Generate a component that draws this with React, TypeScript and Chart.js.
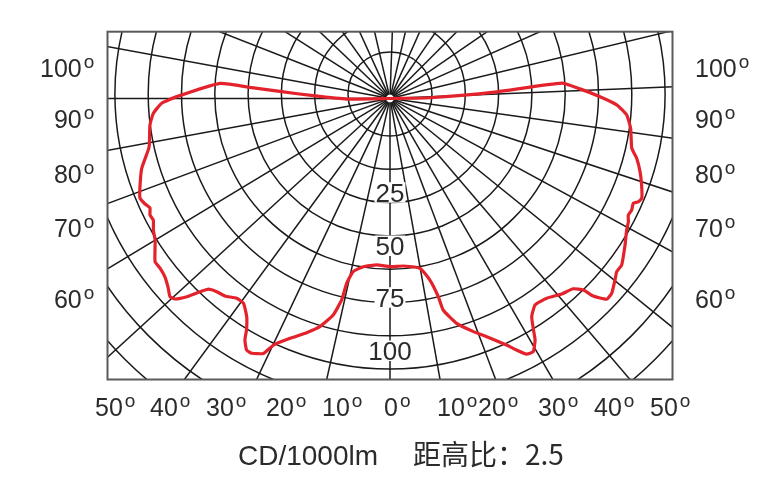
import React, { useEffect, useRef } from "react";
import { Chart, registerables } from "chart.js";

Chart.register(...registerables);

// Luminous intensity curve: angle from nadir (deg, negative = left), intensity (plot units)
const curveAngles = [
  -90, -89.3, -92.1, -93.6, -94.5, -95.1, -90.5, -88.8, -86.4, -83.7, -79.1, -78.0,
  -74.3, -70.9, -68.3, -66.7, -65.5, -64.1, -62.8, -60.9, -58.9, -55.2, -53.6, -51.6,
  -49.5, -48.0, -47.0, -45.7, -44.5, -43.6, -41.9, -39.9, -37.5, -35.6, -33.3, -31.8,
  -31.0, -29.7, -28.5, -26.4, -25.3, -22.6, -19.6, -17.1, -14.7, -13.5, -13.2, -12.0,
  -9.0, -4.6, 0, 4.5, 10.0, 12.4, 13.7, 14.1, 16.5, 19.7, 22.1, 25.3, 26.7, 28.1,
  29.5, 31.0, 31.8, 33.0, 35.1, 38.1, 41.3, 43.9, 45.3, 45.8, 47.2, 48.7, 51.1, 52.6,
  54.3, 58.1, 60.9, 62.7, 63.9, 65.2, 66.7, 67.4, 68.4, 71.0, 73.7, 76.4, 78.4, 82.9,
  86.0, 88.4, 90.5, 92.9, 95.1, 93.6, 91.1, 90,
];
const curveIntensity = [
  0, 43.3, 76.8, 108.5, 138.7, 170.7, 213.3, 228.4, 237.2, 241.5, 245.1, 247.1,
  257.9, 264.5, 269.1, 266.7, 263.8, 266.8, 266.1, 270.8, 274.3, 286.1, 285.7, 287.2,
  291.7, 296.1, 294.0, 283.9, 271.0, 263.3, 259.5, 257.4, 251.8, 251.7, 261.0, 272.3,
  281.7, 289.5, 289.9, 284.6, 272.7, 259.8, 248.6, 238.7, 223.8, 207.2, 189.8, 177.0,
  170.3, 167.0, 168.2, 168.0, 172.4, 185.9, 204.0, 218.1, 234.5, 247.6, 257.1, 272.7,
  281.6, 289.8, 290.9, 281.7, 272.3, 260.2, 252.3, 253.9, 260.2, 264.1, 272.1, 283.4,
  295.4, 295.1, 289.1, 285.3, 285.3, 276.9, 270.8, 268.3, 265.3, 266.2, 264.9, 268.9,
  270.8, 266.1, 260.5, 253.8, 246.8, 242.5, 237.3, 226.8, 210.0, 190.2, 172.4, 106.9,
  40.0, 0,
];

// Polar grid
const ringRadii = [42, 75.3, 108.6, 141.9, 175.2, 208.5, 241.8, 275.1, 308.4, 341.7, 375, 408.3];
const spokeAngles = [
  -12.7, -25.4, -36.2, -47.5, -58.9, -69.6, -79.6, -90, -100.4, -111.4, -122.5, -133.5,
  -144.5, -155.5, -167, 0, 10.1, 20.6, 30.1, 40.5, 51, 61.5, 71.7, 82, 92.4, 103.5, 114,
  124.5, 135, 145.5, 156, 167, 178,
];

// Tick labels
const radialTickLabels = ["25", "50", "75", "100"];
const radialTickPos = [103.2, 156.5, 208.2, 261.5];
const sideAngleLabels = ["100", "90", "80", "70", "60"];
const sideAnglePos = [21.5, -29.8, -84.5, -138.5, -209.8];
const bottomAngleLabels = ["50", "40", "30", "20", "10", "0", "10", "20", "30", "40", "50"];
const bottomAnglePos = [-295, -240, -184, -124, -68, -6, 47, 88, 148, 204, 260];
const captionUnit = "CD/1000lm";
const captionRatio = "距高比：2.5";

const X_MIN = -282.5, X_MAX = 282.5, Y_MIN = -281, Y_MAX = 66.8;
const RING_CENTER_Y = 4.5;

const FONT = '"Liberation Sans", Arial, "Noto Sans CJK SC", sans-serif';
const TEXT = "#2b2b2b";

const deg = Math.PI / 180;

const gridPlugin = {
  id: "polarGrid",
  beforeDatasetsDraw(chart: any) {
    const { ctx, chartArea, scales } = chart;
    const sx = scales.x, sy = scales.y;
    const px = (v: number) => sx.getPixelForValue(v);
    const py = (v: number) => sy.getPixelForValue(v);
    const unit = px(1) - px(0);
    ctx.save();
    ctx.beginPath();
    ctx.rect(chartArea.left, chartArea.top, chartArea.right - chartArea.left, chartArea.bottom - chartArea.top);
    ctx.clip();
    ctx.strokeStyle = "#1a1a1a";
    ctx.lineWidth = 1.5;
    const rcx = px(0), rcy = py(RING_CENTER_Y);
    ringRadii.forEach((r) => {
      ctx.beginPath();
      ctx.arc(rcx, rcy, r * unit, 0, Math.PI * 2);
      ctx.stroke();
    });
    spokeAngles.forEach((a) => {
      const s = Math.sin(a * deg), c = Math.cos(a * deg);
      ctx.beginPath();
      ctx.moveTo(px(4 * s), py(-4 * c));
      ctx.lineTo(px(700 * s), py(-700 * c));
      ctx.stroke();
    });
    ctx.restore();

    // radial tick labels with knock-out background
    ctx.save();
    ctx.font = `26px ${FONT}`;
    ctx.textAlign = "center";
    ctx.textBaseline = "alphabetic";
    radialTickLabels.forEach((t, i) => {
      const x = px(0), y = py(-radialTickPos[i]);
      const w = ctx.measureText(t).width;
      ctx.fillStyle = "#ffffff";
      ctx.fillRect(x - w / 2 - 1, y - 19.5, w + 2, 20.5);
      ctx.fillStyle = TEXT;
      ctx.fillText(t, x, y);
    });
    ctx.restore();
  },
  afterDraw(chart: any) {
    const { ctx, chartArea, scales } = chart;
    const sx = scales.x, sy = scales.y;
    const px = (v: number) => sx.getPixelForValue(v);
    const py = (v: number) => sy.getPixelForValue(v);
    ctx.save();
    ctx.strokeStyle = "#5a5a5a";
    ctx.lineWidth = 2;
    ctx.strokeRect(chartArea.left, chartArea.top, chartArea.right - chartArea.left, chartArea.bottom - chartArea.top);

    const degMark = (x: number, baseline: number) => {
      ctx.font = `19px ${FONT}`;
      ctx.textAlign = "left";
      ctx.fillText("o", x, baseline - 9.5);
    };
    ctx.fillStyle = TEXT;
    ctx.textBaseline = "alphabetic";
    // left side labels
    sideAngleLabels.forEach((t, i) => {
      const y = py(sideAnglePos[i]);
      ctx.font = `25px ${FONT}`;
      ctx.textAlign = "right";
      const xr = px(-308.3);
      ctx.fillText(t, xr, y);
      degMark(xr + 2, y);
    });
    // right side labels
    sideAngleLabels.forEach((t, i) => {
      const y = py(sideAnglePos[i]);
      ctx.font = `25px ${FONT}`;
      ctx.textAlign = "left";
      const xl = px(305);
      ctx.fillText(t, xl, y);
      const w = ctx.measureText(t).width;
      degMark(xl + w + 2, y);
    });
    // bottom labels
    bottomAngleLabels.forEach((t, i) => {
      const y = py(-317.5);
      ctx.font = `25px ${FONT}`;
      ctx.textAlign = "left";
      const xl = px(bottomAnglePos[i]);
      ctx.fillText(t, xl, y);
      const w = ctx.measureText(t).width;
      degMark(xl + w + 2, y);
    });
    // caption
    ctx.font = `28px ${FONT}`;
    ctx.textAlign = "left";
    ctx.fillText(captionUnit, px(-152), py(-366.5));
    ctx.font = `28px "Noto Sans CJK SC", ${FONT}`;
    ctx.fillText(captionRatio, px(23), py(-366.5));
    ctx.restore();
  },
};

export default function App() {
  const ref = useRef<HTMLCanvasElement | null>(null);
  useEffect(() => {
    if (!ref.current) return;
    const points = curveAngles.map((a, i) => ({
      x: curveIntensity[i] * Math.sin(a * deg),
      y: -curveIntensity[i] * Math.cos(a * deg),
    }));
    const chart = new Chart(ref.current, {
      type: "scatter",
      data: {
        datasets: [
          {
            data: points,
            showLine: true,
            borderColor: "#e3222b",
            borderWidth: 3.2,
            pointRadius: 0,
            tension: 0.15,
            fill: false,
          },
        ],
      },
      options: {
        animation: false,
        responsive: false,
        devicePixelRatio: 1,
        layout: { padding: { left: 107.5, right: 93.5, top: 31.7, bottom: 121.5 } },
        plugins: { legend: { display: false }, tooltip: { enabled: false }, title: { display: false } },
        scales: {
          x: { type: "linear", min: X_MIN, max: X_MAX, display: false },
          y: { type: "linear", min: Y_MIN, max: Y_MAX, display: false },
        },
      },
      plugins: [gridPlugin],
    });
    return () => chart.destroy();
  }, []);
  return (
    <div style={{ position: "fixed", left: 0, top: 0, width: 766, height: 501, background: "#fff" }}>
      <canvas ref={ref} width={766} height={501} style={{ width: 766, height: 501 }} />
    </div>
  );
}
